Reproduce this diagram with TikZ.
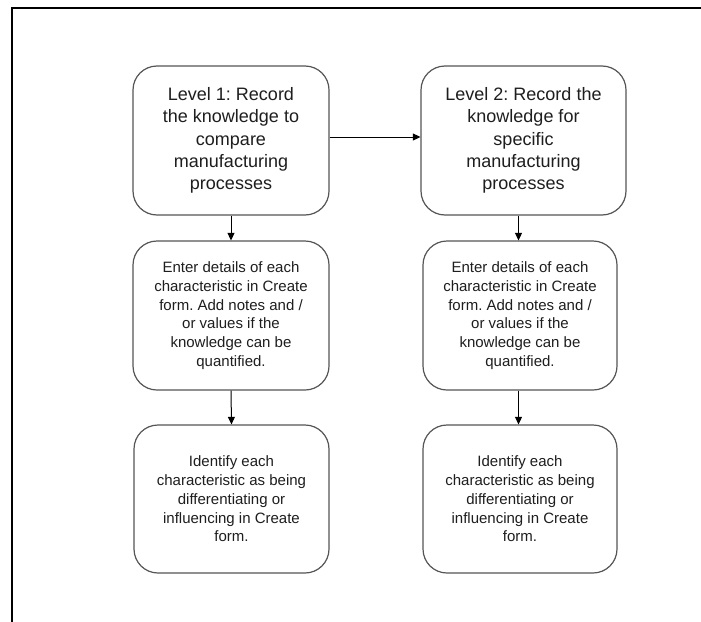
\documentclass[tikz,border=0pt]{standalone}
\usepackage{fontspec}
\setmainfont{Liberation Sans}
\usetikzlibrary{arrows.meta}
\definecolor{boxline}{HTML}{555555}
\definecolor{txt}{HTML}{1E1E1E}
\frenchspacing
\begin{document}
\begin{tikzpicture}[x=1pt,y=-1pt,
  stagebox/.style={draw=boxline, line width=1.2pt, rounded corners=24pt,
    align=center, text=txt, inner sep=0pt, fill=white},
  headbox/.style={stagebox, font=\fontsize{18}{22.3}\selectfont},
  stepbox/.style={stagebox, font=\fontsize{15}{18.7}\selectfont},
  flow/.style={draw=black, line width=1pt, -{Triangle[length=7.5pt,width=7pt]}}]
  \useasboundingbox (0,0) rectangle (701,621);
  \fill[white] (0,0) rectangle (701,621);
  % frame edges
  \draw[line width=2.2pt, line cap=rect] (12,621) -- (12,8) -- (701,8);

  % left column
  \node[headbox, minimum width=196pt, minimum height=149pt] (b1) at (231,140.5)
    {Level 1: Record\\the knowledge to\\compare\\manufacturing\\processes};
  \node[stepbox, minimum width=196pt, minimum height=149pt] (b3) at (231,315.5)
    {Enter details of each\\characteristic in Create\\form. Add notes and /\\or values if the\\knowledge can be\\quantified.};
  \node[stepbox, minimum width=195pt, minimum height=148pt] (b5) at (231.5,499)
    {Identify each\\characteristic as being\\differentiating or\\influencing in Create\\form.};

  % right column
  \node[headbox, minimum width=205pt, minimum height=149pt] (b2) at (523.5,140.5)
    {Level 2: Record the\\knowledge for\\specific\\manufacturing\\processes};
  \node[stepbox, minimum width=194pt, minimum height=149pt] (b4) at (520,315.5)
    {Enter details of each\\characteristic in Create\\form. Add notes and /\\or values if the\\knowledge can be\\quantified.};
  \node[stepbox, minimum width=194pt, minimum height=148pt] (b6) at (520,499)
    {Identify each\\characteristic as being\\differentiating or\\influencing in Create\\form.};

  % connectors
  \draw[flow] ([yshift=3.5pt]b1.east) -- ([yshift=3.5pt]b2.west);
  \draw[flow] (b1.south) -- (b3.north);
  \draw[flow] (b3.south) -- (b5.north);
  \draw[flow] ([xshift=-1.5pt]b4.north |- b2.south) -- ([xshift=-1.5pt]b4.north);
  \draw[flow] ([xshift=-1.5pt]b4.south) -- ([xshift=-1.5pt]b6.north);
\end{tikzpicture}
\end{document}
